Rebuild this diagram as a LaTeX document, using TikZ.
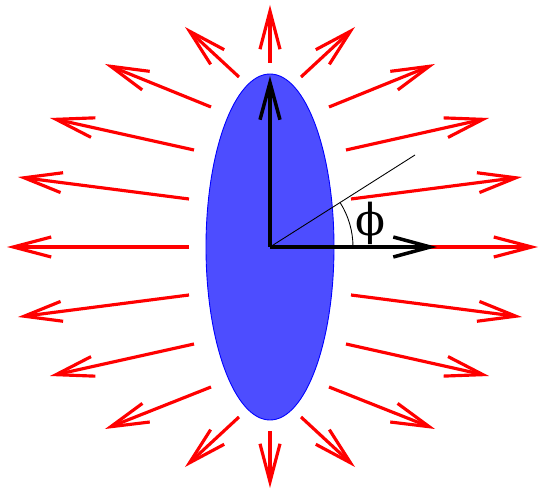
\documentclass[tikz,border=0pt]{standalone}
\usepackage{fontspec}
\usetikzlibrary{arrows.meta}
\newfontfamily\greekserif{DejaVu Serif}
\definecolor{bodyblue}{RGB}{77,77,255}
\tikzset{
  field/.style={red, line width=1.8pt, -{Straight Barb[length=7.6mm,width=4mm]}},
  axis/.style={black, line width=2pt, -{Straight Barb[length=7.4mm,width=4mm]}}
}
\begin{document}
\begin{tikzpicture}[x=0.02cm,y=0.02cm]
      \useasboundingbox (-270,-242) rectangle (270,247);

      % BODY
      \draw[blue, fill=bodyblue, line width=0.5pt] (0,0) ellipse [x radius=64, y radius=173];
      \coordinate (O) at (0,0);

      % FIELD ARROWS, left
      \draw[field] (0,184)    -- (0,242);
      \draw[field] (-31,170)  -- (-85,220);
      \draw[field] (-59,140)  -- (-165,183);
      \draw[field] (-76,97)   -- (-220,129);
      \draw[field] (-81,48)   -- (-252,70);
      \draw[field] (-81,0)    -- (-263,0);
      \draw[field] (-81,-48)  -- (-252,-70);
      \draw[field] (-76,-97)  -- (-220,-129);
      \draw[field] (-59,-140) -- (-165,-182);
      \draw[field] (-31,-170) -- (-85,-220);
      \draw[field] (0,-184)   -- (0,-241);

      % FIELD ARROWS, right
      \draw[field] (31,170)   -- (85,220);
      \draw[field] (59,140)   -- (165,183);
      \draw[field] (76,97)    -- (219,129);
      \draw[field] (81,48)    -- (252,70);
      \draw[field] (81,0)     -- (268,0);
      \draw[field] (81,-48)   -- (252,-70);
      \draw[field] (76,-97)   -- (219,-129);
      \draw[field] (59,-140)  -- (165,-182);
      \draw[field] (31,-170)  -- (85,-220);

      % ANGLE
      \coordinate (r) at (145,92);
      \draw[line width=0.5pt] (O) -- (r);
      \draw[line width=0.5pt] (83,0) arc [start angle=0, end angle=32.4, radius=83];

      % AXES
      \coordinate (zt) at (0,171);
      \coordinate (xt) at (167,0);
      \draw[axis] (O) -- (zt);
      \draw[axis] (O) -- (xt);

      % NOTES
      \node (phi) at (100,24) {\greekserif\fontsize{25}{30}\selectfont ϕ};

\end{tikzpicture}
\end{document}
